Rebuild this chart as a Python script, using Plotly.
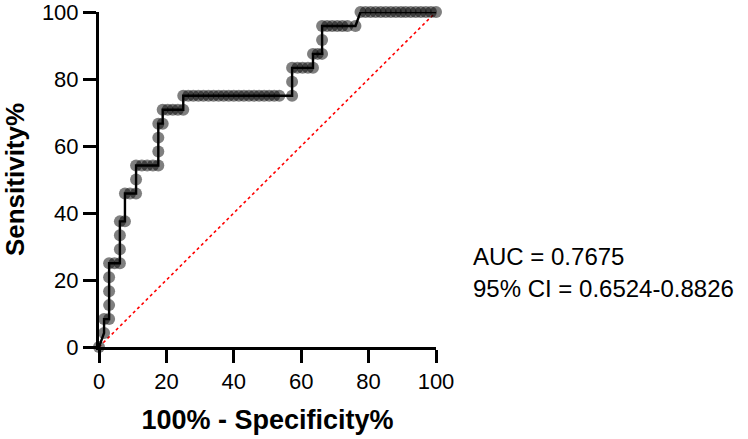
import plotly.graph_objects as go

# ROC points: 100% - Specificity% (x) and Sensitivity% (y)
fpr = [0.0, 1.5, 1.5, 3.0, 3.0, 3.0, 3.0, 3.0, 4.6, 6.2, 6.2, 6.2, 6.2,
       7.7, 7.7, 9.2, 11.0, 11.0, 11.0, 12.7, 14.3, 16.0, 17.6, 17.6, 17.6, 17.6,
       18.9, 18.9, 20.4, 21.9, 23.4, 25.0,
       25.0, 26.5, 28.0, 29.5, 31.0, 32.5, 34.0, 35.5, 37.0, 38.5, 40.0, 41.5,
       43.0, 44.5, 46.0, 47.5, 49.0, 50.5, 52.0, 53.5, 57.3,
       57.3, 57.3, 58.9, 60.4, 62.0, 63.5, 63.5, 64.9, 66.2, 66.2, 66.2,
       67.7, 69.2, 70.7, 72.2, 73.7, 76.1,
       77.6, 79.1, 80.6, 82.1, 83.6, 85.1, 86.6, 88.1, 89.6, 91.0, 92.5, 94.0,
       95.5, 97.0, 98.5, 100.0]
sens = [0.0, 4.17, 8.33, 8.33, 12.5, 16.67, 20.83, 25.0, 25.0, 25.0, 29.17, 33.33, 37.5,
        37.5, 45.83, 45.83, 45.83, 50.0, 54.17, 54.17, 54.17, 54.17, 54.17, 58.33, 62.5, 66.67,
        66.67, 70.83, 70.83, 70.83, 70.83, 70.83,
        75.0, 75.0, 75.0, 75.0, 75.0, 75.0, 75.0, 75.0, 75.0, 75.0, 75.0, 75.0,
        75.0, 75.0, 75.0, 75.0, 75.0, 75.0, 75.0, 75.0, 75.0,
        79.17, 83.33, 83.33, 83.33, 83.33, 83.33, 87.5, 87.5, 87.5, 91.67, 95.83,
        95.83, 95.83, 95.83, 95.83, 95.83, 95.83,
        100.0, 100.0, 100.0, 100.0, 100.0, 100.0, 100.0, 100.0, 100.0, 100.0, 100.0, 100.0,
        100.0, 100.0, 100.0, 100.0]

ref_x = [0, 100]
ref_y = [0, 100]

tick_vals = [0, 20, 40, 60, 80, 100]
tick_text = ["0", "20", "40", "60", "80", "100"]
auc_text = "AUC = 0.7675"
ci_text = "95% CI = 0.6524-0.8826"

FONT = "Liberation Sans, Arial, sans-serif"

fig = go.Figure()
fig.add_trace(go.Scatter(x=ref_x, y=ref_y, mode="lines",
                         line=dict(color="red", width=1.6, dash="dot"),
                         cliponaxis=False, showlegend=False))
fig.add_trace(go.Scatter(x=fpr, y=sens, mode="markers",
                         marker=dict(size=12, color="rgba(0,0,0,0.5)", line=dict(width=0)),
                         cliponaxis=False, showlegend=False))
fig.add_trace(go.Scatter(x=fpr, y=sens, mode="lines",
                         line=dict(color="black", width=2.4),
                         cliponaxis=False, showlegend=False))

axis_common = dict(range=[-0.0001, 100.0001], tickvals=tick_vals, ticktext=tick_text,
                   ticks="outside", ticklen=13,
                   tickwidth=3, tickcolor="black", showline=True, linewidth=3,
                   linecolor="black", showgrid=False, zeroline=False, automargin=False,
                   ticklabeloverflow="allow",
                   tickfont=dict(family=FONT, size=22, color="black"))

fig.update_layout(
    width=748, height=439,
    margin=dict(l=99, r=312, t=12, b=92),
    paper_bgcolor="white", plot_bgcolor="white",
    xaxis=dict(**axis_common,
               title=dict(text="100% - Specificity%", standoff=17,
                          font=dict(family=FONT, size=27, color="black", weight="bold"))),
    yaxis=dict(**axis_common,
               title=dict(text="Sensitivity%", standoff=12,
                          font=dict(family=FONT, size=26, color="black", weight="bold"))),
    annotations=[
        dict(text=auc_text, xref="paper", yref="paper", x=1.104, y=0.2687,
             xanchor="left", yanchor="middle", showarrow=False,
             font=dict(family=FONT, size=24, color="black")),
        dict(text=ci_text, xref="paper", yref="paper", x=1.104, y=0.1737,
             xanchor="left", yanchor="middle", showarrow=False,
             font=dict(family=FONT, size=24, color="black")),
    ],
)

fig.write_html("out.html", config={"displayModeBar": False},
               post_script="document.body.style.margin='0';document.body.style.overflow='hidden';")
